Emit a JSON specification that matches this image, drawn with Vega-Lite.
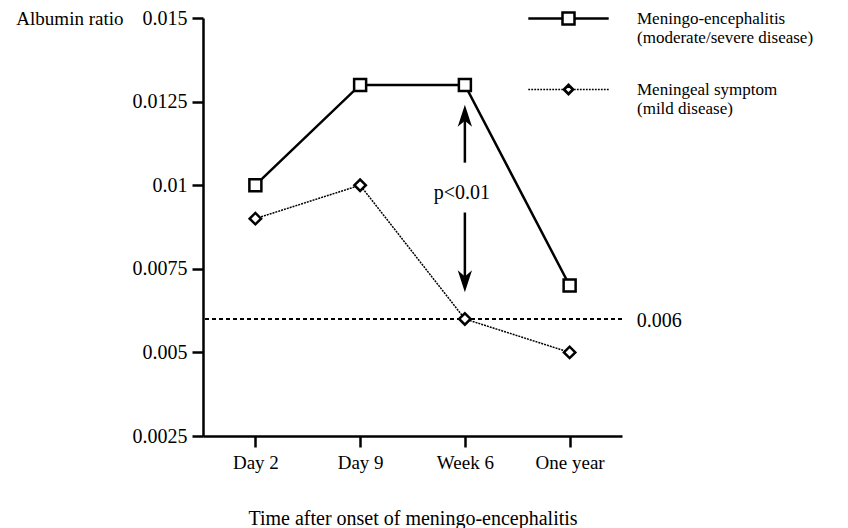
{
  "$schema": "https://vega.github.io/schema/vega-lite/v6.json",
  "width": 419,
  "height": 418,
  "autosize": {"type": "none"},
  "padding": {"left": 203, "top": 18, "right": 226, "bottom": 92},
  "background": "white",
  "config": {
    "view": {"stroke": null},
    "font": "'Liberation Serif', 'Times New Roman', serif",
    "text": {"font": "'Liberation Serif', 'Times New Roman', serif"},
    "axis": {"labelFont": "'Liberation Serif', 'Times New Roman', serif", "titleFont": "'Liberation Serif', 'Times New Roman', serif", "labelColor": "black", "titleColor": "black", "domainColor": "black", "tickColor": "black", "grid": false},
    "legend": {"labelFont": "'Liberation Serif', 'Times New Roman', serif", "labelColor": "black"}
  },
  "datasets": {
    "main": [
      {"series": "Meningo-encephalitis", "time": "Day 2", "value": 0.01},
      {"series": "Meningo-encephalitis", "time": "Day 9", "value": 0.013},
      {"series": "Meningo-encephalitis", "time": "Week 6", "value": 0.013},
      {"series": "Meningo-encephalitis", "time": "One year", "value": 0.007},
      {"series": "Meningeal symptom", "time": "Day 2", "value": 0.009},
      {"series": "Meningeal symptom", "time": "Day 9", "value": 0.01},
      {"series": "Meningeal symptom", "time": "Week 6", "value": 0.006},
      {"series": "Meningeal symptom", "time": "One year", "value": 0.005}
    ],
    "arrows": [
      {"dir": "up", "time": "Week 6", "stemStart": 0.010674, "stemEnd": 0.01205, "head": 0.012077},
      {"dir": "down", "time": "Week 6", "stemStart": 0.009183, "stemEnd": 0.00715, "head": 0.007125}
    ]
  },
  "encoding": {
    "x": {
      "field": "time", "type": "nominal",
      "scale": {"type": "point", "padding": 0.5, "domain": ["Day 2", "Day 9", "Week 6", "One year"]},
      "axis": {
        "title": "Time after onset of meningo-encephalitis",
        "labelAngle": 0, "labelFontSize": 19, "labelPadding": 6,
        "tickSize": 11, "tickWidth": 2.5, "domainWidth": 2.5,
        "titleFontSize": 20, "titleFontWeight": "normal", "titleY": 82, "titleBaseline": "middle"
      }
    }
  },
  "layer": [
    {
      "data": {"values": [{"ref": 0.006}]},
      "mark": {"type": "rule", "strokeDash": [4, 3], "strokeWidth": 2, "color": "black"},
      "encoding": {
        "x": null,
        "y": {"field": "ref", "type": "quantitative"}
      }
    },
    {
      "data": {"values": [{"lab": "0.006", "ref": 0.006, "time": "One year"}]},
      "mark": {"type": "text", "align": "left", "baseline": "middle", "dx": 67, "dy": 2, "fontSize": 20, "color": "black"},
      "encoding": {
        "y": {"field": "ref", "type": "quantitative"},
        "text": {"field": "lab"}
      }
    },
    {
      "data": {"name": "main"},
      "transform": [{"filter": "datum.series == 'Meningo-encephalitis'"}],
      "mark": {"type": "line", "color": "black", "strokeWidth": 2.5},
      "encoding": {
        "y": {
          "field": "value", "type": "quantitative",
          "scale": {"domain": [0.0025, 0.015], "nice": false, "zero": false},
          "axis": {
            "values": [0.0025, 0.005, 0.0075, 0.01, 0.0125, 0.015],
            "labelExpr": "'' + datum.value",
            "labelFontSize": 20, "labelPadding": 5,
            "tickSize": 11, "tickWidth": 2.5, "domainWidth": 2.5,
            "title": "Albumin ratio", "titleAngle": 0, "titleAlign": "right", "titleBaseline": "middle",
            "titleX": -80, "titleY": 0, "titleFontSize": 19, "titleFontWeight": "normal"
          }
        }
      }
    },
    {
      "data": {"name": "main"},
      "transform": [{"filter": "datum.series == 'Meningeal symptom'"}],
      "mark": {"type": "line", "color": "black", "strokeWidth": 1.5, "strokeDash": [2, 1]},
      "encoding": {"y": {"field": "value", "type": "quantitative"}}
    },
    {
      "data": {"name": "main"},
      "transform": [{"filter": "datum.series == 'Meningo-encephalitis'"}],
      "mark": {"type": "point", "shape": "square", "size": 144, "filled": true, "fill": "white", "stroke": "black", "strokeWidth": 2.5, "opacity": 1},
      "encoding": {"y": {"field": "value", "type": "quantitative"}}
    },
    {
      "data": {"name": "main"},
      "transform": [{"filter": "datum.series == 'Meningeal symptom'"}],
      "mark": {"type": "point", "shape": "diamond", "size": 130, "filled": true, "fill": "white", "stroke": "black", "strokeWidth": 2.5, "opacity": 1},
      "encoding": {"y": {"field": "value", "type": "quantitative"}}
    },
    {
      "data": {"name": "arrows"},
      "mark": {"type": "rule", "color": "black", "strokeWidth": 2.5},
      "encoding": {
        "y": {"field": "stemStart", "type": "quantitative"},
        "y2": {"field": "stemEnd"}
      }
    },
    {
      "data": {"name": "arrows"},
      "transform": [{"filter": "datum.dir == 'up'"}],
      "mark": {"type": "point", "shape": "M0,-1L0.65,1L0,0.45L-0.65,1Z", "size": 484, "filled": true, "color": "black", "opacity": 1},
      "encoding": {"y": {"field": "head", "type": "quantitative"}}
    },
    {
      "data": {"name": "arrows"},
      "transform": [{"filter": "datum.dir == 'down'"}],
      "mark": {"type": "point", "shape": "M0,1L0.65,-1L0,-0.45L-0.65,-1Z", "size": 484, "filled": true, "color": "black", "opacity": 1},
      "encoding": {"y": {"field": "head", "type": "quantitative"}}
    },
    {
      "data": {"values": [{"time": "Week 6", "value": 0.00978, "lab": "p<0.01"}]},
      "mark": {"type": "text", "fontSize": 20, "color": "black", "baseline": "middle", "dx": -3},
      "encoding": {
        "y": {"field": "value", "type": "quantitative"},
        "text": {"field": "lab"}
      }
    },
    {
      "data": {"name": "main"},
      "transform": [{"filter": "datum.value < 0"}],
      "mark": {"type": "point", "filled": false, "color": "black", "opacity": 1},
      "encoding": {
        "y": {"field": "value", "type": "quantitative"},
        "shape": {
          "field": "series", "type": "nominal",
          "scale": {
            "domain": ["Meningo-encephalitis", "Meningeal symptom"],
            "range": [
              "M-6.7,0H-1M1,0H6.7M-1,-1H1V1H-1Z",
              "M-6.7,0H-6.4M-6.2,0H-5.9M-5.7,0H-5.4M-5.2,0H-4.9M-4.7,0H-4.4M-4.2,0H-3.9M-3.7,0H-3.4M-3.2,0H-2.9M-2.7,0H-2.4M-2.2,0H-1.9M-1.7,0H-1.4M-1.2,0H-0.9M0.9,0H1.2M1.4,0H1.7M1.9,0H2.2M2.4,0H2.7M2.9,0H3.2M3.4,0H3.7M3.9,0H4.2M4.4,0H4.7M4.9,0H5.2M5.4,0H5.7M5.9,0H6.2M6.4,0H6.7M0,-0.9L0.9,0L0,0.9L-0.9,0ZM0,-0.6L0.6,0L0,0.6L-0.6,0Z"
            ]
          },
          "legend": {
            "title": null, "orient": "none", "legendX": 357, "legendY": -8, "padding": 0,
            "symbolSize": 144, "symbolStrokeColor": "black", "symbolOpacity": 1,
            "labelFontSize": 17, "labelOffset": 60, "labelLimit": 300, "rowPadding": 34,
            "labelExpr": "datum.label == 'Meningo-encephalitis' ? ['Meningo-encephalitis', '(moderate/severe disease)'] : ['Meningeal symptom', '(mild disease)']"
          }
        },
        "strokeWidth": {
          "field": "series", "type": "ordinal",
          "scale": {"domain": ["Meningo-encephalitis", "Meningeal symptom"], "range": [2.5, 1.5]}
        }
      }
    }
  ]
}
